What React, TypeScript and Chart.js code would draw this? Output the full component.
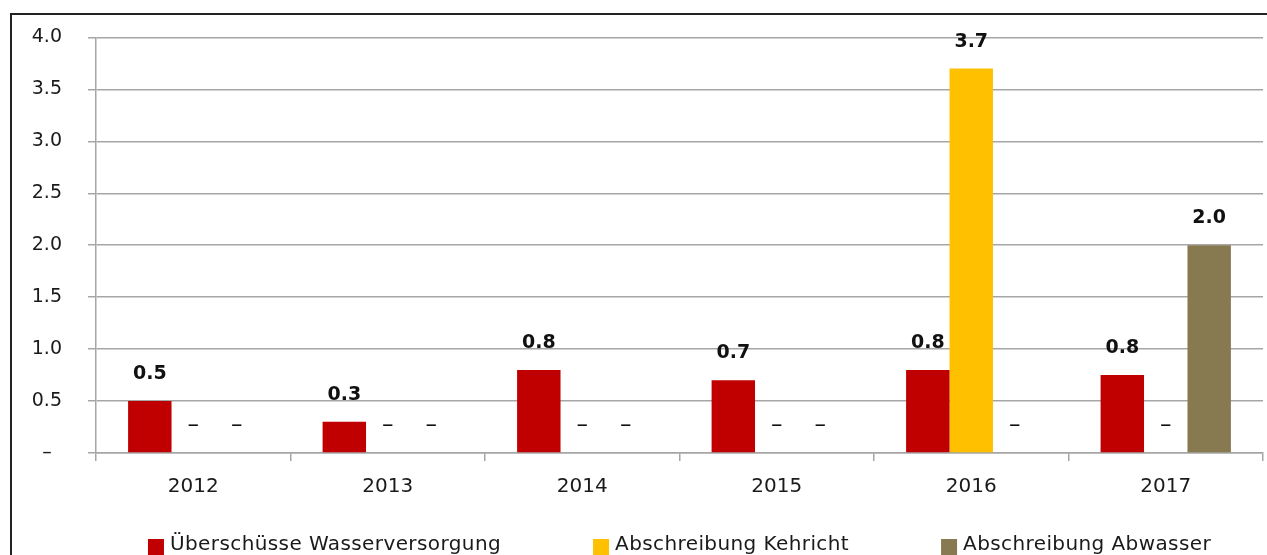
import React, { useEffect, useRef } from 'react';
import { Chart, registerables } from 'chart.js';

Chart.register(...registerables);

const years = ['2012', '2013', '2014', '2015', '2016', '2017'];
const seriesNames = ['Überschüsse Wasserversorgung', 'Abschreibung Kehricht', 'Abschreibung Abwasser'];
const ueberschuesse = [0.5, 0.3, 0.8, 0.7, 0.8, 0.75];
const kehricht = [0, 0, 0, 0, 3.7, 0];
const abwasser = [0, 0, 0, 0, 0, 2.0];
const seriesColors = ['#C00000', '#FFC000', '#887A50'];
const yTickLabels = ['–', '0.5', '1.0', '1.5', '2.0', '2.5', '3.0', '3.5', '4.0'];

const FONT = '"DejaVu Sans", sans-serif';
const TEXT = '#1a1a1a';
const GRID = '#a6a6a6';

const dataLabels = {
  id: 'dataLabels',
  afterDatasetsDraw(chart: any) {
    const ctx = chart.ctx;
    ctx.save();
    ctx.textAlign = 'center';
    ctx.textBaseline = 'middle';
    ctx.fillStyle = '#111111';
    chart.data.datasets.forEach((ds: any, i: number) => {
      const meta = chart.getDatasetMeta(i);
      meta.data.forEach((el: any, j: number) => {
        const v = ds.data[j];
        const zero = v === 0;
        ctx.font = zero ? `23px ${FONT}` : `bold 19px ${FONT}`;
        ctx.fillText(zero ? '–' : Number(v).toFixed(1), el.x, el.y - 27);
      });
    });
    ctx.restore();
  },
};

const bottomLegend = {
  id: 'bottomLegend',
  afterDraw(chart: any) {
    const ctx = chart.ctx;
    const area = chart.chartArea;
    ctx.save();
    ctx.font = `20px ${FONT}`;
    (ctx as any).letterSpacing = '0.4px';
    ctx.textBaseline = 'middle';
    ctx.textAlign = 'left';
    const box = 16;
    const gap = 6;
    const between = 92;
    const items = chart.data.datasets.map((ds: any) => ({
      text: ds.label,
      color: ds.backgroundColor,
      w: box + gap + ctx.measureText(ds.label).width,
    }));
    const total = items.reduce((s: number, it: any) => s + it.w, 0) + between * (items.length - 1);
    let x = (area.left + area.right) / 2 - total / 2;
    const y = chart.height - 9;
    items.forEach((it: any) => {
      ctx.fillStyle = it.color;
      ctx.fillRect(x, y - 7, box, box);
      ctx.fillStyle = TEXT;
      ctx.fillText(it.text, x + box + gap, y - 1);
      x += it.w + between;
    });
    ctx.restore();
  },
};

export default function App() {
  const ref = useRef<HTMLCanvasElement>(null);

  useEffect(() => {
    if (!ref.current) return;
    const chart = new Chart(ref.current, {
      type: 'bar',
      data: {
        labels: years,
        datasets: [
          { label: seriesNames[0], data: ueberschuesse, backgroundColor: seriesColors[0] },
          { label: seriesNames[1], data: kehricht, backgroundColor: seriesColors[1] },
          { label: seriesNames[2], data: abwasser, backgroundColor: seriesColors[2] },
        ],
      },
      options: {
        animation: false,
        responsive: false,
        maintainAspectRatio: false,
        layout: { padding: { left: 0, right: 4, top: 36, bottom: 52 } },
        datasets: { bar: { barPercentage: 1, categoryPercentage: 0.67 } },
        plugins: {
          legend: { display: false },
          tooltip: { enabled: false },
        },
        scales: {
          x: {
            grid: {
              display: true,
              drawOnChartArea: false,
              drawTicks: true,
              tickLength: 8,
              color: GRID,
              lineWidth: 1.5,
              offset: true,
            },
            border: { display: true, color: GRID, width: 1.5 },
            ticks: { font: { family: FONT, size: 20 }, color: TEXT, padding: 14 },
            afterFit: (s: any) => {
              s.height = 50;
            },
          },
          y: {
            min: 0,
            max: 4,
            grid: { color: GRID, tickLength: 8, drawTicks: true, lineWidth: 1.5 },
            border: { display: true, color: GRID, width: 1.5 },
            ticks: {
              stepSize: 0.5,
              font: { family: FONT, size: 19 },
              color: TEXT,
              padding: 26,
              crossAlign: 'center',
              callback: (_v: any, i: number) => yTickLabels[i],
            },
            afterFit: (s: any) => {
              s.width = 96;
            },
          },
        },
      },
      plugins: [dataLabels, bottomLegend],
    } as any);
    return () => chart.destroy();
  }, []);

  return (
    <div style={{ position: 'fixed', left: 0, top: 0, width: 1267, height: 555, overflow: 'hidden', background: '#fff' }}>
      <canvas ref={ref} width={1267} height={555} style={{ position: 'absolute', left: 0, top: 0 }} />
      <div
        style={{
          position: 'absolute',
          left: 10,
          top: 13,
          width: 1300,
          height: 600,
          borderTop: '2px solid #222',
          borderLeft: '2px solid #222',
          pointerEvents: 'none',
        }}
      />
    </div>
  );
}
